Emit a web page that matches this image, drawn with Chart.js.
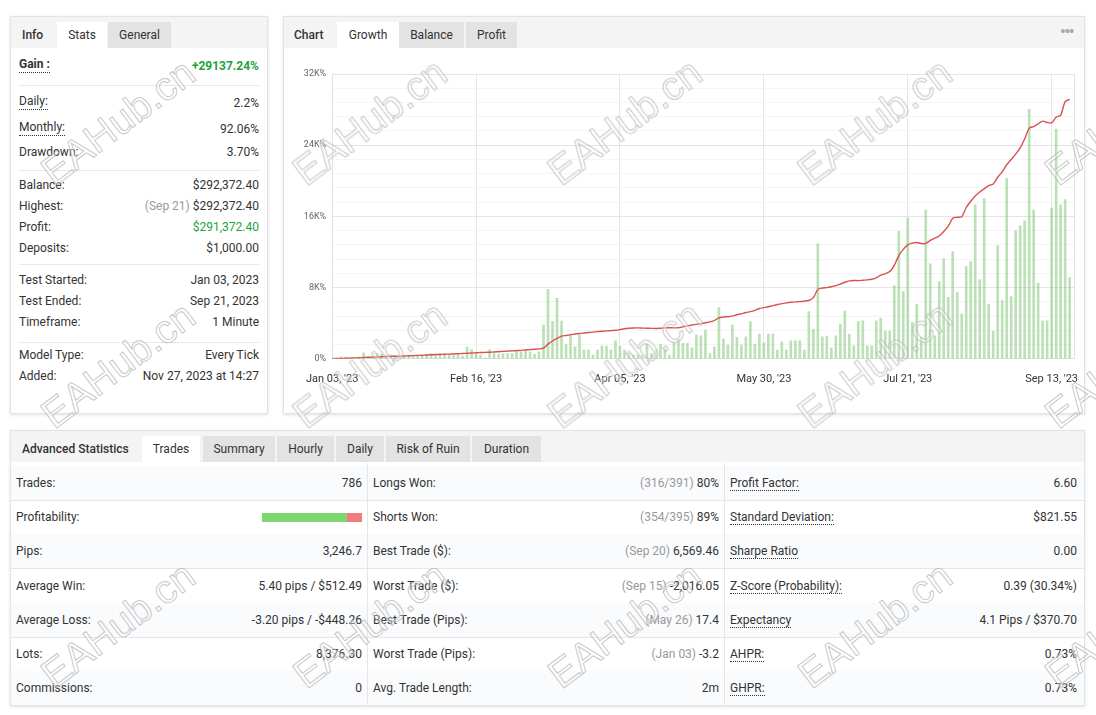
<!DOCTYPE html>
<html>
<head>
<meta charset="utf-8">
<script src="https://cdn.jsdelivr.net/npm/chart.js@4.4.0/dist/chart.umd.min.js"></script>
<style>
  body { margin: 0; background: #fff; font-family: Roboto, "Noto Sans", sans-serif; color: #333; font-size: 12px; width: 1096px; height: 715px; overflow: hidden; position: relative; }
  .panel { position: absolute; background: #fff; border: 1px solid #e3e3e3; box-shadow: 0 1px 3px rgba(0,0,0,.12); box-sizing: border-box; overflow: hidden; }
  .hdr { position: absolute; left: 0; top: 0; right: 0; height: 31px; background: #f4f4f4; }
  .tab { position: absolute; top: 5px; height: 26px; line-height: 26px; text-align: center; }
  .tab.on { background: #fff; }
  .tab.off { background: #e3e3e3; }
  .title { position: absolute; top: 5px; height: 26px; line-height: 26px; font-weight: 500; color: #333; }
  .row { position: absolute; left: 8px; right: 8px; height: 16px; line-height: 16px; }
  .row .l { position: absolute; left: 0; }
  .row .v { position: absolute; right: 0; }
  .dot { border-bottom: 1px dotted #333; }
  .sep { position: absolute; left: 8px; right: 8px; height: 1px; background: #e8e8e8; }
  .g { color: #999; }
  .green { color: #1aa33c; }
  .trow { position: absolute; left: 0; right: 0; height: 34px; border-bottom: 1px solid #e6e6e6; }
  .trow.alt { background: #f9fbfd; }
  .cell { position: absolute; top: 0; height: 34px; line-height: 34px; }
  .vsep { position: absolute; top: 32px; bottom: 0; width: 1px; background: #e6e6e6; }
  .wm { position: absolute; font-family: "Liberation Sans", Arial, sans-serif; font-size: 40px; color: rgba(255,255,255,0.35); -webkit-text-stroke: 1px rgba(175,175,175,0.7); transform: translate(-50%,-50%) rotate(-37deg); white-space: nowrap; pointer-events: none; z-index: 10; }
</style>
</head>
<body>

<div class="panel" style="left:10px;top:16px;width:258px;height:398px;">
  <div class="hdr"></div>
  <div class="title" style="left:11px;">Info</div>
  <div class="tab on" style="left:46px;width:50px;">Stats</div>
  <div class="tab off" style="left:97px;width:63px;">General</div>

  <div class="row" style="top:39px;"><span class="l dot" style="font-weight:700;">Gain :</span><span class="v green" style="font-weight:700;top:2px;">+29137.24%</span></div>
  <div class="sep" style="top:68px;"></div>
  <div class="row" style="top:76px;"><span class="l dot">Daily:</span><span class="v" style="top:2px;">2.2%</span></div>
  <div class="row" style="top:102px;"><span class="l dot">Monthly:</span><span class="v" style="top:2px;">92.06%</span></div>
  <div class="row" style="top:127px;"><span class="l">Drawdown:</span><span class="v">3.70%</span></div>
  <div class="sep" style="top:153px;"></div>
  <div class="row" style="top:160px;"><span class="l">Balance:</span><span class="v">$292,372.40</span></div>
  <div class="row" style="top:181px;"><span class="l">Highest:</span><span class="v"><span class="g">(Sep 21)</span> $292,372.40</span></div>
  <div class="row" style="top:202px;"><span class="l">Profit:</span><span class="v green">$291,372.40</span></div>
  <div class="row" style="top:223px;"><span class="l">Deposits:</span><span class="v">$1,000.00</span></div>
  <div class="sep" style="top:247px;"></div>
  <div class="row" style="top:255px;"><span class="l">Test Started:</span><span class="v">Jan 03, 2023</span></div>
  <div class="row" style="top:276px;"><span class="l">Test Ended:</span><span class="v">Sep 21, 2023</span></div>
  <div class="row" style="top:297px;"><span class="l">Timeframe:</span><span class="v">1 Minute</span></div>
  <div class="sep" style="top:325px;"></div>
  <div class="row" style="top:330px;"><span class="l">Model Type:</span><span class="v">Every Tick</span></div>
  <div class="row" style="top:351px;"><span class="l">Added:</span><span class="v">Nov 27, 2023 at 14:27</span></div>
</div>

<div class="panel" style="left:283px;top:16px;width:802px;height:398px;">
  <div class="hdr"></div>
  <div class="title" style="left:10px;">Chart</div>
  <div class="tab on" style="left:53px;width:62px;">Growth</div>
  <div class="tab off" style="left:115px;width:65px;">Balance</div>
  <div class="tab off" style="left:182px;width:51px;">Profit</div>
  <div style="position:absolute;right:11px;top:3px;color:#aaa;font-size:19px;letter-spacing:-2px;">&#8226;&#8226;&#8226;</div>
  <div style="position:absolute;left:8px;top:44px;width:800px;height:343px;"><canvas id="growthChart"></canvas></div>
</div>

<div class="panel" style="left:10px;top:430px;width:1075px;height:276px;">
  <div class="hdr"></div>
  <div class="title" style="left:11px;">Advanced Statistics</div>
  <div class="tab on" style="left:131px;width:58px;">Trades</div>
  <div class="tab off" style="left:192px;width:72px;">Summary</div>
  <div class="tab off" style="left:266px;width:57px;">Hourly</div>
  <div class="tab off" style="left:325px;width:48px;">Daily</div>
  <div class="tab off" style="left:375px;width:84px;">Risk of Ruin</div>
  <div class="tab off" style="left:461px;width:69px;">Duration</div>
  <div id="tbl"></div>
  <div class="vsep" style="left:356px;"></div>
  <div class="vsep" style="left:713px;"></div>
</div>

<div id="wms"></div>

<script>
// x-axis ticks (index into the daily series)
const tickIdx = [0, 32, 64, 96, 128, 160];
const tickLabels = ["Jan 03, '23", "Feb 16, '23", "Apr 05, '23", "May 30, '23", "Jul 21, '23", "Sep 13, '23"];

// growth curve, %
const growth = [
  0, 20, 40, 60, 80, 100, 120, 150, 170, 190,
  210, 230, 250, 270, 290, 300, 320, 340, 360, 380,
  400, 420, 450, 470, 490, 510, 530, 550, 570, 590,
  620, 650, 680, 700, 720, 740, 770, 800, 830, 860,
  890, 920, 950, 990, 1030, 1070, 1110, 1200, 1650, 2000,
  2300, 2550, 2620, 2700, 2780, 2850, 2900, 2950, 3000, 3060,
  3100, 3140, 3170, 3200, 3280, 3380, 3430, 3460, 3470, 3450,
  3440, 3420, 3400, 3440, 3480, 3490, 3480, 3490, 3600, 3700,
  3800, 3870, 3950, 4050, 4150, 4300, 4600, 4700, 4730, 4800,
  4950, 5050, 5200, 5300, 5450, 5650, 5750, 5850, 5980, 6100,
  6200, 6280, 6350, 6400, 6420, 6480, 6550, 6870, 7800, 7950,
  8000, 8100, 8230, 8400, 8600, 8750, 8800, 8780, 8830, 8870,
  8940, 9100, 9400, 9550, 9800, 10500, 11600, 12300, 12800, 13000,
  13070, 12950, 12960, 13300, 13550, 13800, 14300, 14900, 15800, 15900,
  15950, 17000, 17700, 18300, 18750, 19100, 19450, 19650, 20400, 21000,
  21800, 22400, 23000, 23700, 24700, 25900, 26100, 26400, 26700, 26550,
  26500, 27150, 27350, 28900, 29137
];

// daily bars, same scale
const daily = [
  200, 150, 200, 200, 150, 100, 200, 680, 225, 225,
  600, 525, 450, 410, 340, 225, 300, 300, 225, 300,
  340, 525, 600, 600, 600, 600, 490, 490, 410, 300,
  1350, 1050, 600, 410, 110, 1050, 600, 490, 600, 600,
  600, 980, 790, 860, 790, 490, 790, 3790, 7800, 4200,
  6800, 4240, 1600, 2550, 1350, 2670, 980, 980, 410, 980,
  1430, 1430, 980, 2030, 1430, 980, 600, 410, 410, 410,
  1650, 600, 1050, 1650, 1160, 410, 1800, 2200, 1730, 1730,
  1240, 2670, 2590, 3230, 600, 1310, 5750, 2220, 1540, 3790,
  2400, 1540, 2480, 4170, 1650, 2780, 1800, 2780, 2780, 980,
  1900, 980, 2030, 2030, 2030, 980, 5300, 3300, 12920, 2480,
  2550, 1240, 2590, 3900, 5370, 2780, 1460, 4170, 4280, 1460,
  1460, 4280, 4540, 3120, 3120, 8190, 14310, 7550, 15810, 4090,
  6160, 2400, 16750, 10670, 2590, 8680, 11230, 6910, 12060, 7440,
  5030, 10370, 10930, 17310, 8900, 17990, 6160, 3120, 12730, 6540,
  20240, 6990, 14420, 14950, 15510, 28020, 16750, 8490, 4280, 4280,
  16940, 25800, 17310, 17880, 9160
];

// advanced statistics table: [label, grey note, value]
const statsCol1 = [
  ["Trades:", "", "786"],
  ["Profitability:", "", "#bar"],
  ["Pips:", "", "3,246.7"],
  ["Average Win:", "", "5.40 pips / $512.49"],
  ["Average Loss:", "", "-3.20 pips / -$448.26"],
  ["Lots:", "", "8,376.30"],
  ["Commissions:", "", "0"]
];
const statsCol2 = [
  ["Longs Won:", "(316/391)", "80%"],
  ["Shorts Won:", "(354/395)", "89%"],
  ["Best Trade ($):", "(Sep 20)", "6,569.46"],
  ["Worst Trade ($):", "(Sep 15)", "-2,016.05"],
  ["Best Trade (Pips):", "(May 26)", "17.4"],
  ["Worst Trade (Pips):", "(Jan 03)", "-3.2"],
  ["Avg. Trade Length:", "", "2m"]
];
const statsCol3 = [
  ["Profit Factor:", "", "6.60"],
  ["Standard Deviation:", "", "$821.55"],
  ["Sharpe Ratio", "", "0.00"],
  ["Z-Score (Probability):", "", "0.39 (30.34%)"],
  ["Expectancy", "", "4.1 Pips / $370.70"],
  ["AHPR:", "", "0.73%"],
  ["GHPR:", "", "0.73%"]
];

const cols = [
  { data: statsCol1, left: 5, right: 722, dotted: false },
  { data: statsCol2, left: 362, right: 365, dotted: false },
  { data: statsCol3, left: 719, right: 7, dotted: true }
];
let html = "";
for (let r = 0; r < 7; r++) {
  html += `<div class="trow${r % 2 === 0 ? ' alt' : ''}" style="top:${35 + r * 34.2}px;">`;
  cols.forEach(c => {
    const [lab, note, val] = c.data[r];
    html += `<span class="cell" style="left:${c.left}px;"><span class="${c.dotted ? 'dot' : ''}">${lab}</span></span>`;
    if (val === "#bar") {
      html += `<span style="position:absolute;right:${c.right}px;top:13px;width:100px;height:9px;background:#f07c7c;"><span style="position:absolute;left:0;top:0;width:85px;height:9px;background:#7fd66e;"></span></span>`;
    } else {
      html += `<span class="cell" style="right:${c.right}px;">${note ? '<span class="g">' + note + '</span> ' : ''}${val}</span>`;
    }
  });
  html += `</div>`;
}
document.getElementById("tbl").innerHTML = html;

// watermark grid
const wmX = [118, 370, 625, 875, 1122];
const wmY = [122, 365, 625];
let wm = "";
wmY.forEach(y => wmX.forEach(x => { wm += `<div class="wm" style="left:${x}px;top:${y}px;">EAHub.cn</div>`; }));
document.getElementById("wms").innerHTML = wm;

const rightEdge = {
  id: 'rightEdge',
  afterDraw(chart) {
    const { ctx, chartArea } = chart;
    ctx.save();
    ctx.strokeStyle = '#e3e3e3';
    ctx.lineWidth = 1;
    ctx.beginPath();
    ctx.moveTo(Math.round(chartArea.right) + 0.5, chartArea.top);
    ctx.lineTo(Math.round(chartArea.right) + 0.5, chartArea.bottom);
    ctx.stroke();
    ctx.restore();
  }
};

new Chart(document.getElementById("growthChart"), {
  data: {
    datasets: [
      {
        type: 'line',
        data: growth.map((v, i) => ({ x: i, y: v })),
        borderColor: '#d9524e',
        borderWidth: 1.4,
        pointRadius: 0,
        tension: 0.25,
        order: 0
      },
      {
        type: 'bar',
        data: daily.map((v, i) => ({ x: i, y: v })),
        backgroundColor: 'rgba(140,203,130,0.58)',
        barThickness: 2,
        order: 1
      }
    ]
  },
  options: {
    responsive: true,
    maintainAspectRatio: false,
    animation: false,
    layout: { padding: { left: 4, right: 0, top: 13, bottom: 4 } },
    plugins: { legend: { display: false }, tooltip: { enabled: false } },
    scales: {
      x: {
        type: 'linear',
        min: 0,
        max: 165,
        offset: false,
        afterBuildTicks: s => { s.ticks = tickIdx.map(v => ({ value: v })); },
        ticks: {
          autoSkip: false,
          maxRotation: 0,
          padding: 14,
          color: '#333',
          font: { family: 'Roboto', size: 11 },
          callback: v => tickLabels[tickIdx.indexOf(v)]
        },
        grid: { color: '#e6e6e6', drawTicks: false, offset: false },
        border: { color: '#e3e3e3' }
      },
      y: {
        min: 0,
        max: 32000,
        ticks: {
          stepSize: 1600,
          autoSkip: false,
          padding: 6,
          color: '#666',
          font: { family: 'Roboto', size: 9 },
          callback: v => v % 8000 === 0 ? (v === 0 ? '0%' : (v / 1000) + 'K%') : ''
        },
        grid: {
          color: c => c.tick.value % 8000 === 0 ? '#e4e4e4' : '#f5f5f5',
          drawTicks: false
        },
        border: { color: '#e3e3e3' }
      }
    }
  },
  plugins: [rightEdge]
});
</script>
</body>
</html>
